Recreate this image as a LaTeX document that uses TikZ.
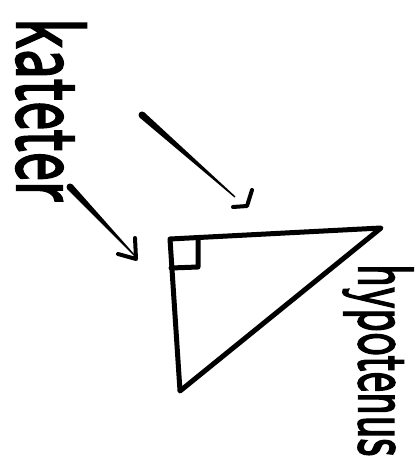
\documentclass[tikz,border=0pt]{standalone}
\usepackage{fontspec}
\setmainfont{DejaVu Sans}
\newfontfamily\handfont[FakeBold=2.5]{Latin Modern Sans}
\usetikzlibrary{calc}
\begin{document}
\begin{tikzpicture}[x=1pt,y=-1pt,
  leg/.style={line width=5pt,line join=round,line cap=round},
  headstroke/.style={line width=4pt,line join=round,line cap=round},
  hand/.style={inner sep=0pt,rotate=-90,font=\handfont}]
\useasboundingbox (0,0) rectangle (417,462);
% triangle
\coordinate (C) at (170,239);
\coordinate (R) at (381,228);
\coordinate (B) at (180,391);
\draw[leg] (C) -- (R) -- (B) -- cycle;
% right-angle mark
\coordinate (s1) at (198,240);
\coordinate (s2) at (198,267);
\coordinate (s3) at (171,268);
\draw[leg] (s1) -- (s2) -- (s3);
% labels
\node[hand] (kat) at (51,110) {\resizebox*{184pt}{70pt}{kateter}};
\node[hand] (hyp) at (378,360) {\resizebox*{192pt}{70pt}{hypotenus}};
% arrow 1 (upper)
\coordinate (a1) at (142,115);
\coordinate (b1) at (235,197);
\fill ($(a1)!3.5pt!90:(b1)$) -- ($(b1)!0.7pt!-90:(a1)$) -- ($(b1)!0.7pt!90:(a1)$) -- ($(a1)!3.5pt!-90:(b1)$) -- cycle;
\fill (a1) circle (3.5pt);
\coordinate (h1a) at (233,207);
\coordinate (h1b) at (247,206);
\coordinate (h1c) at (252,190);
\draw[headstroke] (h1a) -- (h1b) -- (h1c);
% arrow 2 (lower)
\coordinate (a2) at (70,187);
\coordinate (b2) at (135,256);
\fill ($(a2)!3.5pt!90:(b2)$) -- ($(b2)!0.7pt!-90:(a2)$) -- ($(b2)!0.7pt!90:(a2)$) -- ($(a2)!3.5pt!-90:(b2)$) -- cycle;
\fill (a2) circle (3.5pt);
\coordinate (h2a) at (118,254);
\coordinate (h2b) at (136,259);
\coordinate (h2c) at (135,238);
\draw[headstroke] (h2a) -- (h2b) -- (h2c);
\end{tikzpicture}
\end{document}
